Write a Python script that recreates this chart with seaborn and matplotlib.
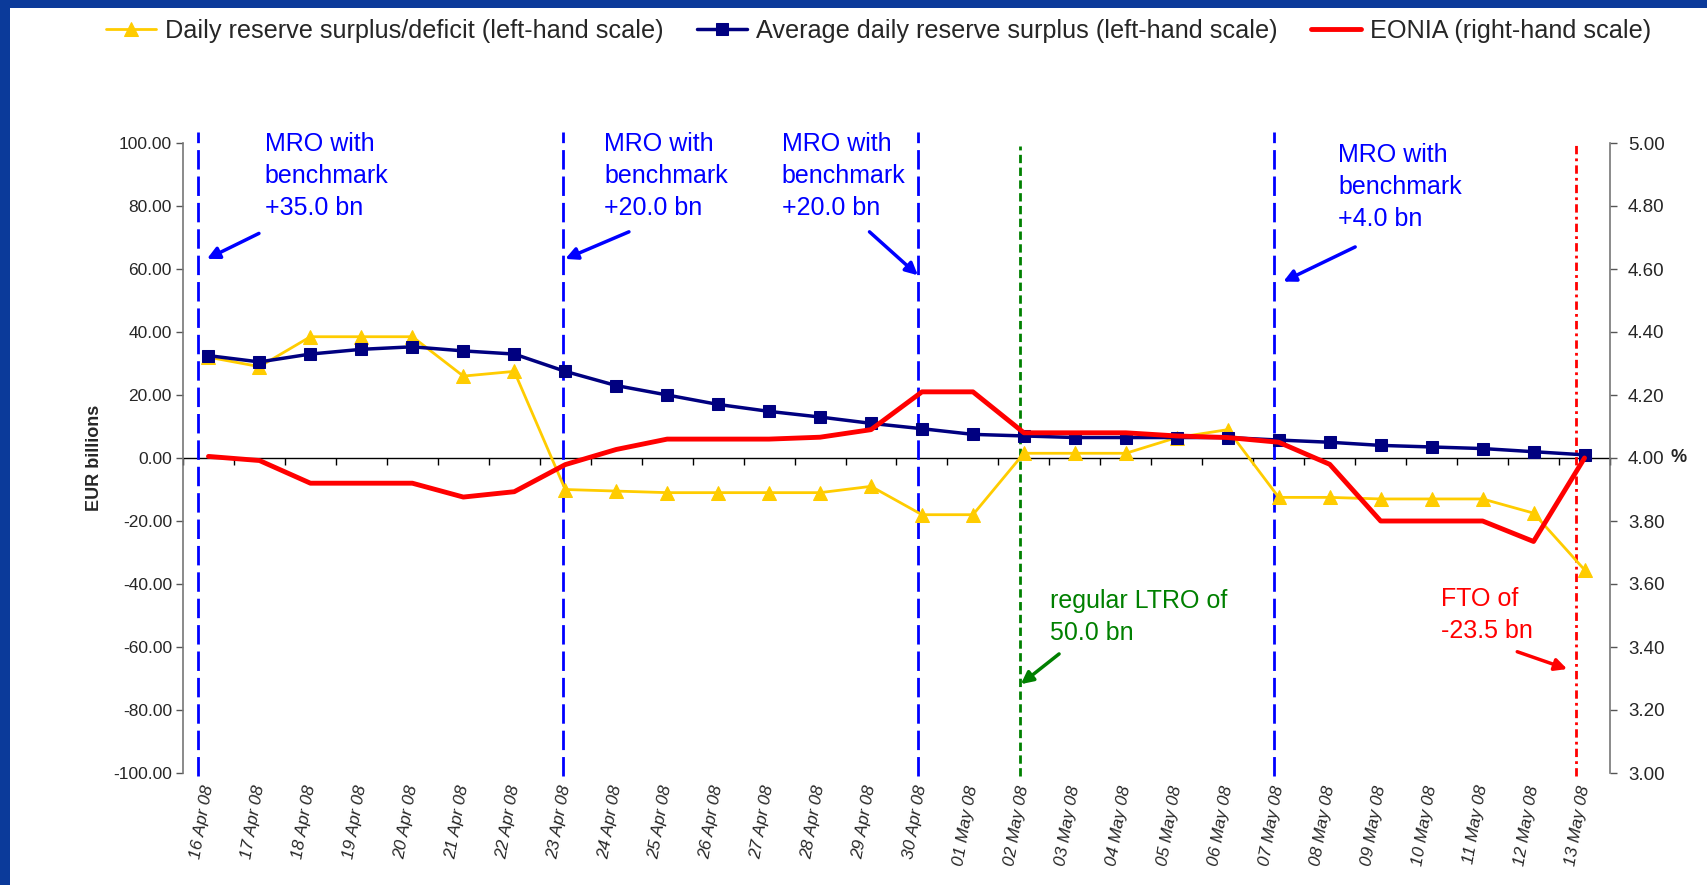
import numpy as np
import pandas as pd
import matplotlib
matplotlib.use("Agg")
import matplotlib.pyplot as plt
from matplotlib.patches import Rectangle
import seaborn as sns

# ---------------- data ----------------
dates = ['16 Apr 08', '17 Apr 08', '18 Apr 08', '19 Apr 08', '20 Apr 08', '21 Apr 08',
         '22 Apr 08', '23 Apr 08', '24 Apr 08', '25 Apr 08', '26 Apr 08', '27 Apr 08',
         '28 Apr 08', '29 Apr 08', '30 Apr 08', '01 May 08', '02 May 08', '03 May 08',
         '04 May 08', '05 May 08', '06 May 08', '07 May 08', '08 May 08', '09 May 08',
         '10 May 08', '11 May 08', '12 May 08', '13 May 08']
daily_surplus = [32, 29, 38.5, 38.5, 38.5, 26, 27.5,
                 -10, -10.5, -11, -11, -11, -11, -9,
                 -18, -18,
                 1.5, 1.5, 1.5, 6.5, 9,
                 -12.5, -12.5, -13, -13, -13, -17.5, -35.5]
avg_surplus = [32.5, 30.5, 33, 34.5, 35.3, 34, 33,
               27.5, 23, 20, 17, 14.8, 13, 11,
               9.3, 7.5,
               7, 6.5, 6.5, 6.5, 6.5,
               5.7, 5, 4, 3.5, 3, 2, 1]
eonia = [4.005, 3.992, 3.92, 3.92, 3.92, 3.876, 3.893,
         3.979, 4.027, 4.06, 4.06, 4.06, 4.066, 4.09,
         4.21, 4.21,
         4.08, 4.08, 4.08, 4.07, 4.065,
         4.05, 3.98, 3.80, 3.80, 3.80, 3.735, 4.00]
left_ticks = [-100, -80, -60, -40, -20, 0, 20, 40, 60, 80, 100]
right_ticks = [3.0, 3.2, 3.4, 3.6, 3.8, 4.0, 4.2, 4.4, 4.6, 4.8, 5.0]

series_names = ['Daily reserve surplus/deficit (left-hand scale)',
                'Average daily reserve surplus (left-hand scale)',
                'EONIA (right-hand scale)']

event_texts = ['MRO with\nbenchmark\n+35.0 bn', 'MRO with\nbenchmark\n+20.0 bn',
               'MRO with\nbenchmark\n+20.0 bn', 'regular LTRO of\n50.0 bn',
               'MRO with\nbenchmark\n+4.0 bn', 'FTO of\n-23.5 bn']

df = pd.DataFrame({'idx': np.arange(len(dates)), 'date': dates,
                   'daily': daily_surplus, 'avg': avg_surplus, 'eonia': eonia})

# ---------------- style ----------------
sns.set_style('ticks')
plt.rcParams['font.family'] = ['Liberation Sans', 'DejaVu Sans']

W, H = 1708, 885
fig = plt.figure(figsize=(W / 100, H / 100), dpi=100)
fig.patch.set_facecolor('#0b3a9a')
fig.add_artist(Rectangle((10 / W, 0), 1 - 10 / W, 1 - 8 / H, transform=fig.transFigure,
                         facecolor='white', edgecolor='none', zorder=-5))

x0, x1 = 183 / W, 1610 / W
y0, y1 = 1 - 773 / H, 1 - 143 / H
ax = fig.add_axes([x0, y0, x1 - x0, y1 - y0])
ax.set_facecolor('white')

YEL, NAVY, RED = '#FFCC00', '#000080', '#FF0000'
EBLUE, EGREEN = '#0000FF', '#008000'

sns.lineplot(data=df, x='idx', y='daily', ax=ax, color=YEL, linewidth=2,
             marker='^', markersize=10, markeredgecolor=YEL, label=series_names[0], zorder=4)
sns.lineplot(data=df, x='idx', y='avg', ax=ax, color=NAVY, linewidth=2.5,
             marker='s', markersize=9, markeredgecolor=NAVY, label=series_names[1], zorder=5)

ax.set_xlim(-0.5, len(dates) - 0.5)
ax.set_ylim(-100, 100)
ax.set_yticks(left_ticks)
ax.set_yticklabels([f'{v:.2f}' for v in left_ticks], fontsize=12.5)
ax.set_xticks(df['idx'])
ax.set_xticklabels(dates, rotation=80, fontsize=12.5, style='italic',
                   ha='right', va='center', rotation_mode='anchor')
ax.tick_params(axis='x', length=0, pad=9)
ax.tick_params(axis='y', length=5, width=1, direction='out', pad=3, color='#555555')
for s in ['top', 'bottom', 'right']:
    ax.spines[s].set_visible(False)
ax.spines['left'].set_color('#777777')
ax.spines['left'].set_linewidth(1.2)
ax.set_xlabel('')
ax.set_ylabel('EUR billions', fontsize=13, fontweight='bold')
ax.yaxis.set_label_coords(-0.056, 0.5)

# zero line with category-boundary ticks
sec = ax.secondary_xaxis(0.5)
sec.set_alignment('bottom')
sec.set_xticks(np.arange(-0.5, len(dates), 1.0))
sec.tick_params(axis='x', direction='out', length=5, width=1, labelbottom=False,
                labeltop=False, color='black')
sec.spines['bottom'].set_color('black')
sec.spines['bottom'].set_linewidth(1.0)

# event vertical lines
ev_x = [-0.21, 6.96, 13.92, 15.92, 20.9, 26.84]
ev_top = [103.5, 103.5, 103.5, 99, 103.5, 100]
ev_col = [EBLUE, EBLUE, EBLUE, EGREEN, EBLUE, RED]
ev_ls = [(0, (7, 2.5)), (0, (7, 2.5)), (0, (7, 2.5)), (0, (3, 1.6)), (0, (7, 2.5)),
         (0, (3, 1.5, 1, 1.5))]
for xv, yt, c, ls in zip(ev_x, ev_top, ev_col, ev_ls):
    ax.vlines(xv, -101, yt, colors=c, linestyles=ls, linewidth=2, zorder=3, clip_on=False)

# annotations
txt_pos = [(1.10, 103.5), (7.76, 103.5), (11.25, 103.5), (16.52, -41.5), (22.17, 100), (24.19, -41)]
txt_col = [EBLUE, EBLUE, EBLUE, EGREEN, EBLUE, RED]
arr_from = [(0.99, 71.3), (8.25, 71.8), (12.97, 71.8), (16.69, -62.2), (22.5, 67.0), (25.68, -61.5)]
arr_to = [(-0.03, 63.2), (7.0, 63.2), (13.92, 58.0), (15.94, -71.8), (21.09, 56.0), (26.66, -67.0)]
for t, p, c, a0, a1 in zip(event_texts, txt_pos, txt_col, arr_from, arr_to):
    ax.text(p[0], p[1], t, color=c, fontsize=18, va='top', ha='left', linespacing=1.42,
            zorder=6)
    ax.annotate('', xy=a1, xytext=a0,
                arrowprops=dict(arrowstyle='-|>', color=c, lw=2.5, mutation_scale=18,
                                shrinkA=0, shrinkB=0), zorder=6)

# right axis
ax2 = ax.twinx()
sns.lineplot(data=df, x='idx', y='eonia', ax=ax2, color=RED, linewidth=3.5,
             label=series_names[2], zorder=5)
ax2.set_ylim(3.0, 5.0)
ax2.set_yticks(right_ticks)
ax2.set_yticklabels([f'{v:.2f}' for v in right_ticks], fontsize=13.5)
ax2.tick_params(axis='y', length=5, width=1, direction='out', pad=8, color='#555555')
for s in ['top', 'bottom', 'left']:
    ax2.spines[s].set_visible(False)
ax2.spines['right'].set_color('#777777')
ax2.spines['right'].set_linewidth(1.2)
ax2.set_xlabel('')
ax2.set_ylabel('%', fontsize=13, fontweight='bold', rotation=0, ha='left', va='center')
ax2.yaxis.set_label_coords(1.0425, 0.5)

# legend
h1, l1 = ax.get_legend_handles_labels()
h2, l2 = ax2.get_legend_handles_labels()
ax.get_legend().remove()
ax2.get_legend().remove()
fig.legend(h1 + h2, l1 + l2, loc='center', bbox_to_anchor=(0.5144, 0.965), ncol=3,
           frameon=False, fontsize=18.2, handlelength=2.0, columnspacing=1.3,
           handletextpad=0.35)

fig.savefig('out.png', dpi=100, facecolor=fig.get_facecolor())
